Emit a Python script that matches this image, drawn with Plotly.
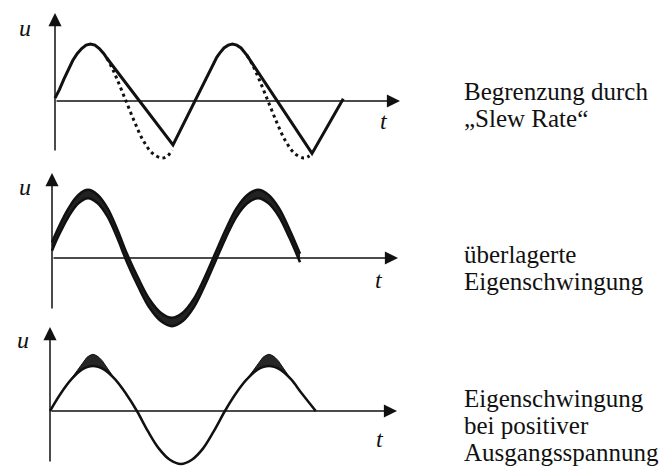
import numpy as np
import plotly.graph_objects as go

W, H = 670, 470
INK = "#111111"

# ---------------- data (t in periods, u in units of the signal amplitude) ----------------
# Panel 1: slew-rate limited output (solid) and the ideal sine (dotted)
P1_SOLID_T = [0, 0.031, 0.062, 0.094, 0.125, 0.156, 0.188, 0.219, 0.25, 0.281, 0.312, 0.344, 0.366,
              0.831, 1.14, 1.16, 1.19, 1.22, 1.25, 1.28, 1.31, 1.352, 1.81, 2.03]
P1_SOLID_U = [0.05, 0.2, 0.38, 0.56, 0.71, 0.83, 0.92, 0.98, 1.0, 0.98, 0.92, 0.83, 0.75,
              -0.77, 0.77, 0.84, 0.93, 0.98, 1.0, 0.98, 0.93, 0.80, -0.92, 0.04]
P1_IDEAL_T = [0.366, 0.40, 0.4375, 0.5, 0.5625, 0.625, 0.6875, 0.75, 0.79, 0.825, None,
              1.352, 1.39, 1.4375, 1.5, 1.5625, 1.625, 1.6875, 1.75, 1.78, 1.81]
P1_IDEAL_U = [0.75, 0.59, 0.38, 0.0, -0.38, -0.71, -0.92, -1.0, -0.97, -0.86, None,
              0.80, 0.64, 0.38, 0.0, -0.38, -0.71, -0.92, -1.0, -0.98, -0.93]

# Panel 2: output with a superimposed parasitic oscillation (band around the signal)
P2_T = [0, 0.04, 0.097, 0.155, 0.212, 0.269, 0.327, 0.384, 0.441, 0.507, 0.573, 0.64, 0.706,
        0.769, 0.833, 0.896, 0.959, 1.022, 1.085, 1.149, 1.212, 1.274, 1.336, 1.397, 1.459]
P2_U = [0.18, 0.42, 0.71, 0.92, 1.0, 0.92, 0.71, 0.38, 0.0, -0.38, -0.71, -0.92, -1.0,
        -0.92, -0.71, -0.38, 0.0, 0.38, 0.71, 0.92, 1.0, 0.92, 0.71, 0.38, 0.0]
P2_OSC_AMPL = 0.065

# Panel 3: oscillation only on the positive half-waves
P3_T = [0, 0.061, 0.122, 0.183, 0.244, 0.306, 0.369, 0.431, 0.494, 0.556, 0.619, 0.681, 0.744,
        0.806, 0.869, 0.931, 0.994, 1.056, 1.119, 1.181, 1.244, 1.306, 1.369, 1.431, 1.51]
P3_U = [0.0, 0.33, 0.60, 0.785, 0.85, 0.785, 0.60, 0.33, 0.0, -0.38, -0.71, -0.92, -1.0,
        -0.92, -0.71, -0.38, 0.0, 0.33, 0.60, 0.785, 0.85, 0.785, 0.60, 0.33, 0.0]
P3_PEAKS_T = [0.244, 1.244]
BUMP_DT = [-0.125, -0.105, -0.0875, -0.07, -0.0525, -0.035, -0.0175, 0,
           0.0175, 0.035, 0.0525, 0.07, 0.0875, 0.105, 0.125]
BUMP_TOP = [0.60, 0.69, 0.78, 0.87, 0.95, 1.01, 1.05, 1.07, 1.05, 1.01, 0.95, 0.87, 0.78, 0.69, 0.60]
BUMP_BASE = [0.60, 0.67, 0.725, 0.77, 0.80, 0.83, 0.845, 0.85, 0.845, 0.83, 0.80, 0.77, 0.725, 0.67, 0.60]

CAPTIONS = [
    ["Begrenzung durch", "\u201eSlew Rate\u201c"],
    ["überlagerte", "Eigenschwingung"],
    ["Eigenschwingung", "bei positiver", "Ausgangsspannung"],
]

# ---------------- layout geometry (pixels) ----------------
# origin of each small coordinate system, pixels per unit, vertical extent of the panel,
# and the ends of the drawn axis arrows
PANELS = [
    dict(x0=55, y0=101, sx=142, sy=57, top=0, bottom=172, h_tip=400, v_tip=13, v_bot=152,
         u_lbl=(25, 28), t_lbl=(384, 121)),
    dict(x0=52, y0=258, sx=170, sy=64, top=160, bottom=342, h_tip=398, v_tip=173, v_bot=310,
         u_lbl=(25, 187), t_lbl=(379, 280)),
    dict(x0=50, y0=411, sx=176, sy=53, top=318, bottom=470, h_tip=397, v_tip=327, v_bot=463,
         u_lbl=(23, 340), t_lbl=(380, 439)),
]
CAPTION_X = 463
CAPTION_BASELINES = [[100, 127], [263, 290], [407, 434, 461]]
CAPTION_SIZE = 25

fig = go.Figure()
axes = []
for i, g in enumerate(PANELS):
    sfx = "" if i == 0 else str(i + 1)
    xname, yname = "x" + sfx, "y" + sfx
    axes.append((xname, yname))
    fig.layout["xaxis" + sfx] = dict(
        domain=[0, 1], range=[-g["x0"] / g["sx"], (W - g["x0"]) / g["sx"]],
        visible=False, anchor=yname, fixedrange=True)
    fig.layout["yaxis" + sfx] = dict(
        domain=[1 - g["bottom"] / H, 1 - g["top"] / H],
        range=[(g["y0"] - g["bottom"]) / g["sy"], (g["y0"] - g["top"]) / g["sy"]],
        visible=False, anchor=xname, fixedrange=True)

# ---- panel 1 ----
xa, ya = axes[0]
fig.add_trace(go.Scatter(x=P1_IDEAL_T, y=P1_IDEAL_U, mode="lines", xaxis=xa, yaxis=ya,
                         line=dict(color=INK, width=3, dash="3px,3.5px", shape="spline"),
                         connectgaps=False, hoverinfo="skip"))
fig.add_trace(go.Scatter(x=P1_SOLID_T, y=P1_SOLID_U, mode="lines", xaxis=xa, yaxis=ya,
                         line=dict(color=INK, width=3), hoverinfo="skip"))

# ---- panel 2 ----
xa, ya = axes[1]
p2_u = np.array(P2_U)
fig.add_trace(go.Scatter(x=P2_T, y=p2_u - P2_OSC_AMPL, mode="lines", xaxis=xa, yaxis=ya,
                         line=dict(color=INK, width=2.5, shape="spline"), hoverinfo="skip"))
fig.add_trace(go.Scatter(x=P2_T, y=p2_u + P2_OSC_AMPL, mode="lines", xaxis=xa, yaxis=ya,
                         fill="tonexty", fillcolor="#222222",
                         line=dict(color=INK, width=2.5, shape="spline"), hoverinfo="skip"))

# ---- panel 3 ----
xa, ya = axes[2]
for tp in P3_PEAKS_T:
    bx = [tp + d for d in BUMP_DT]
    fig.add_trace(go.Scatter(x=bx + bx[::-1], y=BUMP_TOP + BUMP_BASE[::-1], mode="lines",
                             xaxis=xa, yaxis=ya, fill="toself", fillcolor="#262626",
                             line=dict(color=INK, width=1), hoverinfo="skip"))
fig.add_trace(go.Scatter(x=P3_T, y=P3_U, mode="lines", xaxis=xa, yaxis=ya,
                         line=dict(color=INK, width=2.5, shape="spline"), hoverinfo="skip"))

# ---- coordinate axes with arrow heads, and axis letters ----
annotations = []
for g, (xa, ya) in zip(PANELS, axes):
    t_end = (g["h_tip"] - g["x0"]) / g["sx"]
    u_top = (g["y0"] - g["v_tip"]) / g["sy"]
    u_bot = (g["y0"] - g["v_bot"]) / g["sy"]
    arrow = dict(xref=xa, yref=ya, axref=xa, ayref=ya, text="", showarrow=True,
                 arrowhead=2, arrowsize=1.75, arrowwidth=1.5, arrowcolor=INK)
    annotations.append(dict(arrow, x=t_end, y=0, ax=0, ay=0))
    annotations.append(dict(arrow, x=0, y=u_top, ax=0, ay=u_bot))
    for letter, (px, py) in (("u", g["u_lbl"]), ("t", g["t_lbl"])):
        annotations.append(dict(xref="paper", yref="paper", x=px / W, y=1 - py / H,
                                text=letter, showarrow=False, xanchor="center", yanchor="middle",
                                font=dict(family="Liberation Serif", size=24, color=INK,
                                          style="italic")))

for lines, bases in zip(CAPTIONS, CAPTION_BASELINES):
    for txt, base in zip(lines, bases):
        annotations.append(dict(xref="paper", yref="paper", x=CAPTION_X / W,
                                y=1 - (base - 0.34 * CAPTION_SIZE) / H,
                                text=txt, showarrow=False, xanchor="left", yanchor="middle",
                                borderpad=0,
                                font=dict(family="Liberation Serif", size=CAPTION_SIZE, color=INK)))

fig.update_layout(width=W, height=H, autosize=False, margin=dict(l=0, r=0, t=0, b=0),
                  paper_bgcolor="white", plot_bgcolor="rgba(0,0,0,0)", showlegend=False,
                  annotations=annotations)

fig.write_html("out.html", config={"displayModeBar": False})
